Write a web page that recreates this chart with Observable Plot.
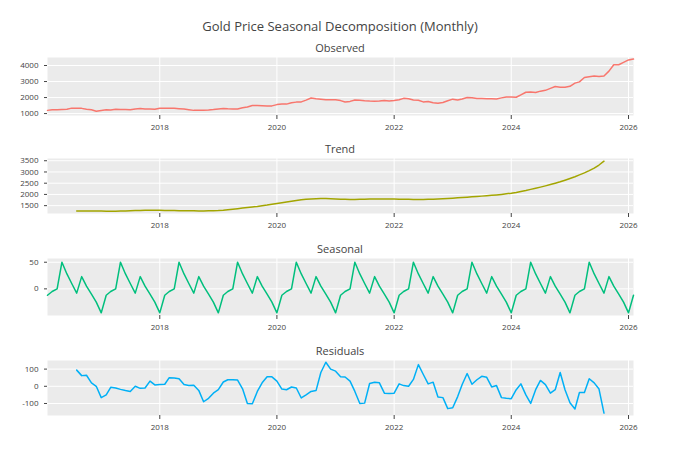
<!DOCTYPE html>
<html><head><meta charset="utf-8">
<script src="https://cdn.jsdelivr.net/npm/d3@7"></script>
<script src="https://cdn.jsdelivr.net/npm/@observablehq/plot@0.6"></script>
<style>
body{margin:0;background:#fff;font-family:"Open Sans",sans-serif;}
#c{position:relative;width:680px;height:462px;}
.t{position:absolute;left:0;width:680px;text-align:center;color:#444;}
.p{position:absolute;left:0;}
</style></head><body><div id="c"></div>
<script>
const observed = [1200,1245,1240,1260,1275,1340,1335,1325,1265,1235,1150,
1190,1235,1230,1265,1255,1260,1235,1285,1315,1280,1280,1265,
1330,1330,1325,1335,1305,1280,1240,1200,1200,1215,1220,1250,
1290,1320,1300,1285,1285,1360,1410,1500,1510,1495,1470,1480,
1560,1600,1590,1680,1715,1730,1840,1970,1920,1900,1870,1860,
1865,1810,1720,1760,1850,1830,1800,1780,1775,1780,1820,1790,
1815,1860,1950,1920,1850,1835,1730,1760,1680,1640,1690,1800,
1900,1850,1910,2000,1990,1940,1940,1930,1920,1915,1980,2030,
2030,2020,2170,2330,2350,2320,2400,2450,2570,2690,2650,2640,
2700,2900,2980,3250,3300,3340,3320,3350,3650,4050,4050,4200,
4350,4400];
const trend = [1265,1265,1265,1262,1260,
1258,1255,1254,1255,1260,1265,1272,1280,1285,1290,1295,1295,
1292,1288,1283,1280,1276,1272,1270,1268,1266,1266,1268,1272,
1280,1295,1315,1340,1365,1390,1415,1440,1465,1495,1525,1560,
1595,1630,1665,1700,1730,1760,1785,1800,1810,1815,1815,1810,
1800,1790,1782,1778,1778,1782,1790,1795,1800,1800,1800,1798,
1795,1790,1785,1780,1778,1776,1776,1780,1786,1795,1805,1818,
1832,1848,1862,1878,1893,1908,1924,1940,1958,1978,2000,2025,
2055,2090,2130,2175,2225,2275,2325,2380,2440,2500,2565,2635,
2710,2790,2870,2960,3060,3170,3310,3480];
const seasonalByMonth = [-45,-12,-5,0,50,28,10,-8,23,5,-10,-25]; // Jan..Dec
const residuals = [94,62,64,20,0,
-66,-50,-6,-10,-18,-25,-30,0,-12,-10,30,8,
10,12,50,48,44,10,4,6,-24,-90,-70,-40,
-20,25,38,38,36,-15,-100,-102,-30,20,56,55,
30,-16,-20,-4,-10,-68,-50,-30,-25,80,140,100,
88,56,54,30,-30,-100,-98,16,24,20,-40,-42,
-40,14,4,0,40,126,70,14,24,-62,-66,-130,
-125,-60,10,74,12,38,58,52,-4,4,-66,-70,
-72,-20,14,-50,-100,-20,34,10,-40,-20,80,-20,
-96,-132,-36,-36,44,20,-16,-156];
const xTicks = [2018,2020,2022,2024,2026];

const month = (y0,m0,i) => new Date(Date.UTC(y0, m0 + i, 1));
const obsData = observed.map((v,i)=>({d:month(2016,1,i),v}));
const seaData = observed.map((_,i)=>({d:month(2016,1,i),v:seasonalByMonth[(1+i)%12]}));
const trData = trend.map((v,i)=>({d:month(2016,7,i),v}));
const resData = residuals.map((v,i)=>({d:month(2016,7,i),v}));

const c = document.getElementById("c");
function text(s,top,size){const e=document.createElement("div");e.className="t";e.style.top=top+"px";e.style.fontSize=size+"px";e.textContent=s;c.appendChild(e);}
text("Gold Price Seasonal Decomposition (Monthly)",17,13);
const MT = 8;
function panel(title,data,color,top,h,ydom,yticks){
  text(title,top-17,11);
  const xt = xTicks.map(y=>new Date(Date.UTC(y,0,1)));
  const ch = Plot.plot({
    width:680,height:h+20+MT,marginLeft:47,marginRight:47,marginTop:MT,marginBottom:20,
    style:{fontFamily:"Open Sans",fontSize:"8px",color:"#444",background:"transparent"},
    x:{type:"utc",domain:[new Date(Date.UTC(2016,1,1)),new Date(Date.UTC(2026,1,1))],label:null},
    y:{domain:ydom,label:null},
    marks:[
      Plot.frame({fill:"#ebebeb",stroke:null}),
      Plot.gridX(xt,{stroke:"#fff",strokeOpacity:1,strokeWidth:1}),
      Plot.gridY(yticks,{stroke:"#fff",strokeOpacity:1,strokeWidth:1}),
      Plot.line(data,{x:"d",y:"v",stroke:color,strokeWidth:1.5}),
      Plot.axisX({ticks:xt,tickFormat:d3.utcFormat("%Y"),tickSize:4}),
      Plot.axisY({ticks:yticks,tickSize:3,tickFormat:d=>String(d)})
    ]
  });
  ch.classList.add("p");ch.style.top=(top-MT)+"px";c.appendChild(ch);
}
panel("Observed",obsData,"#F8766D",57,58,[880,4500],[1000,2000,3000,4000]);
panel("Trend",trData,"#A3A500",158,55,[1150,3600],[1500,2000,2500,3000,3500]);
panel("Seasonal",seaData,"#00BF7D",258,57,[-50,57],[0,50]);
panel("Residuals",resData,"#00B0F6",360,55,[-170,150],[-100,0,100]);
</script></body></html>
